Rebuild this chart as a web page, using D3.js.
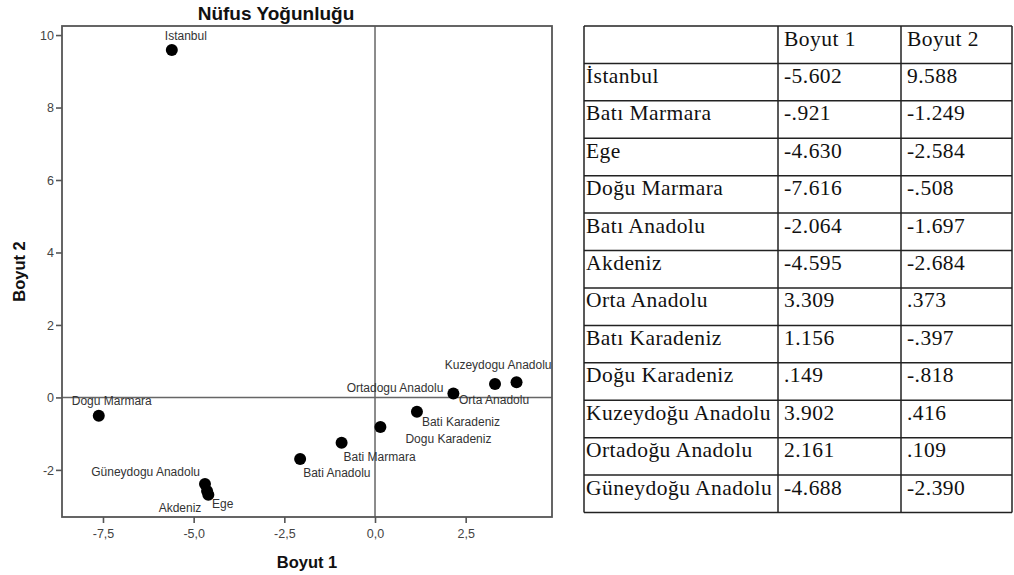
<!DOCTYPE html>
<html>
<head>
<meta charset="utf-8">
<script src="https://cdn.jsdelivr.net/npm/d3@7"></script>
<style>
  body { margin: 0; background: #fff; }
  svg { display: block; }
</style>
</head>
<body>
<div class="canvas"></div>
<script>
// data (table order)
const tableNames = ['İstanbul', 'Batı Marmara', 'Ege', 'Doğu Marmara', 'Batı Anadolu', 'Akdeniz',
    'Orta Anadolu', 'Batı Karadeniz', 'Doğu Karadeniz', 'Kuzeydoğu Anadolu', 'Ortadoğu Anadolu', 'Güneydoğu Anadolu']
const plotLabels = ['Istanbul', 'Bati Marmara', 'Ege', 'Dogu Marmara', 'Bati Anadolu', 'Akdeniz',
    'Orta Anadolu', 'Bati Karadeniz', 'Dogu Karadeniz', 'Kuzeydogu Anadolu', 'Ortadogu Anadolu', 'Güneydogu Anadolu']
const boyut1 = [-5.602, -0.921, -4.630, -7.616, -2.064, -4.595, 3.309, 1.156, 0.149, 3.902, 2.161, -4.688]
const boyut2 = [9.588, -1.249, -2.584, -0.508, -1.697, -2.684, 0.373, -0.397, -0.818, 0.416, 0.109, -2.390]
const xTicks = [-7.5, -5, -2.5, 0, 2.5]
const yTicks = [-2, 0, 2, 4, 6, 8, 10]
const columnHeads = ['', 'Boyut 1', 'Boyut 2']

// label placement next to each point: [anchor, dx, dy]
const labelPlace = [
    ['middle', 14, -10], ['start', 2, 18], ['start', 5, 17], ['start', -27, -11],
    ['start', 3, 18], ['end', -7, 17], ['start', -36, 20], ['start', 5, 14],
    ['start', 25, 16], ['end', 35, -13], ['end', -10, -1], ['end', -5, -8]
]

const points = tableNames.map((n, i) => ({ name: n, label: plotLabels[i], b1: boyut1[i], b2: boyut2[i], place: labelPlace[i] }))

const svg = d3.select('.canvas')
    .append('svg')
    .attr('width', 1014)
    .attr('height', 575)

// plot area
const plot = { left: 62, top: 26, right: 552, bottom: 517 }

const x = d3.scaleLinear().domain([-8.63, 4.88]).range([plot.left, plot.right])
const y = d3.scaleLinear().domain([-3.3, 10.25]).range([plot.bottom, plot.top])

// plain hyphen minus, comma decimal for the chart
const trLocale = d3.formatLocale({ decimal: ',', thousands: '.', grouping: [3], currency: ['', ''], minus: '-' })
const enLocale = d3.formatLocale({ decimal: '.', thousands: ',', grouping: [3], currency: ['', ''], minus: '-' })
const commaFmt = trLocale.format('.1f')

// axes
const xAxis = d3.axisBottom(x).tickValues(xTicks).tickSize(6).tickSizeOuter(0).tickPadding(6).tickFormat(commaFmt)
const yAxis = d3.axisLeft(y).tickValues(yTicks).tickSize(6).tickSizeOuter(0).tickPadding(2).tickFormat(trLocale.format('d'))

const xAxisGroup = svg.append('g').attr('transform', `translate(0, ${plot.bottom})`).call(xAxis)
const yAxisGroup = svg.append('g').attr('transform', `translate(${plot.left}, 0)`).call(yAxis)

;[xAxisGroup, yAxisGroup].forEach(g => {
    g.select('.domain').remove()
    g.selectAll('line').attr('stroke', '#555').attr('stroke-width', 1.6)
    g.selectAll('text')
        .attr('fill', '#444')
        .style('font-family', '"Liberation Sans", Arial, sans-serif')
        .style('font-size', '12.5px')
})
yAxisGroup.selectAll('text').attr('dy', '0.35em')

// reference lines at zero
svg.append('line')
    .attr('x1', x(0)).attr('x2', x(0))
    .attr('y1', plot.top).attr('y2', plot.bottom)
    .attr('stroke', '#666').attr('stroke-width', 1.5)
svg.append('line')
    .attr('x1', plot.left).attr('x2', plot.right)
    .attr('y1', y(0)).attr('y2', y(0))
    .attr('stroke', '#666').attr('stroke-width', 1.5)

// frame
svg.append('rect')
    .attr('x', plot.left).attr('y', plot.top)
    .attr('width', plot.right - plot.left).attr('height', plot.bottom - plot.top)
    .attr('fill', 'none').attr('stroke', '#555').attr('stroke-width', 1.8)

// points
svg.selectAll('circle.pt')
    .data(points)
    .enter()
    .append('circle')
        .attr('class', 'pt')
        .attr('r', 6)
        .attr('cx', d => x(d.b1))
        .attr('cy', d => y(d.b2))
        .attr('fill', '#000')

// point labels
svg.selectAll('text.lbl')
    .data(points)
    .enter()
    .append('text')
        .attr('class', 'lbl')
        .attr('x', d => x(d.b1) + d.place[1])
        .attr('y', d => y(d.b2) + d.place[2])
        .attr('text-anchor', d => d.place[0])
        .attr('fill', '#333')
        .style('font-family', '"Liberation Sans", Arial, sans-serif')
        .style('font-size', '12px')
        .text(d => d.label)

// titles
svg.append('text')
    .attr('x', 276).attr('y', 20)
    .attr('text-anchor', 'middle')
    .style('font-family', '"Liberation Sans", Arial, sans-serif')
    .style('font-size', '19px').style('font-weight', 'bold')
    .attr('fill', '#111')
    .text('Nüfus Yoğunluğu')

svg.append('text')
    .attr('x', 307).attr('y', 568)
    .attr('text-anchor', 'middle')
    .style('font-family', '"Liberation Sans", Arial, sans-serif')
    .style('font-size', '16.5px').style('font-weight', 'bold')
    .attr('fill', '#111')
    .text('Boyut 1')

svg.append('text')
    .attr('transform', `translate(25, ${(plot.top + plot.bottom) / 2}) rotate(-90)`)
    .attr('text-anchor', 'middle')
    .style('font-family', '"Liberation Sans", Arial, sans-serif')
    .style('font-size', '16.5px').style('font-weight', 'bold')
    .attr('fill', '#111')
    .text('Boyut 2')

// table of coordinates
const colEdges = [584, 778, 901, 1012]
const tableTop = 26
const tableBottom = 512.5
const rowCount = tableNames.length + 1
const rowY = d3.scaleLinear().domain([0, rowCount]).range([tableTop, tableBottom])

// SPSS style: drop the leading zero
const spssFmt = v => enLocale.format('.3f')(v).replace(/^(-?)0\./, '$1.')

const rows = [columnHeads].concat(points.map(p => [p.name, spssFmt(p.b1), spssFmt(p.b2)]))

const table = svg.append('g')

table.selectAll('line.h')
    .data(d3.range(rowCount + 1))
    .enter()
    .append('line')
        .attr('x1', colEdges[0]).attr('x2', colEdges[colEdges.length - 1])
        .attr('y1', d => rowY(d)).attr('y2', d => rowY(d))
        .attr('stroke', '#222').attr('stroke-width', 1.5)

table.selectAll('line.v')
    .data(colEdges)
    .enter()
    .append('line')
        .attr('x1', d => d).attr('x2', d => d)
        .attr('y1', tableTop).attr('y2', tableBottom)
        .attr('stroke', '#222').attr('stroke-width', 1.5)

const colPad = [2, 6, 6]
rows.forEach((r, i) => {
    r.forEach((cell, j) => {
        table.append('text')
            .attr('x', colEdges[j] + colPad[j])
            .attr('y', rowY(i) + 19.5)
            .attr('fill', '#111')
            .style('font-family', '"Liberation Serif", "Times New Roman", serif')
            .style('font-size', '21.5px')
            .style('letter-spacing', '0.45px')
            .text(cell)
    })
})
</script>
</body>
</html>
